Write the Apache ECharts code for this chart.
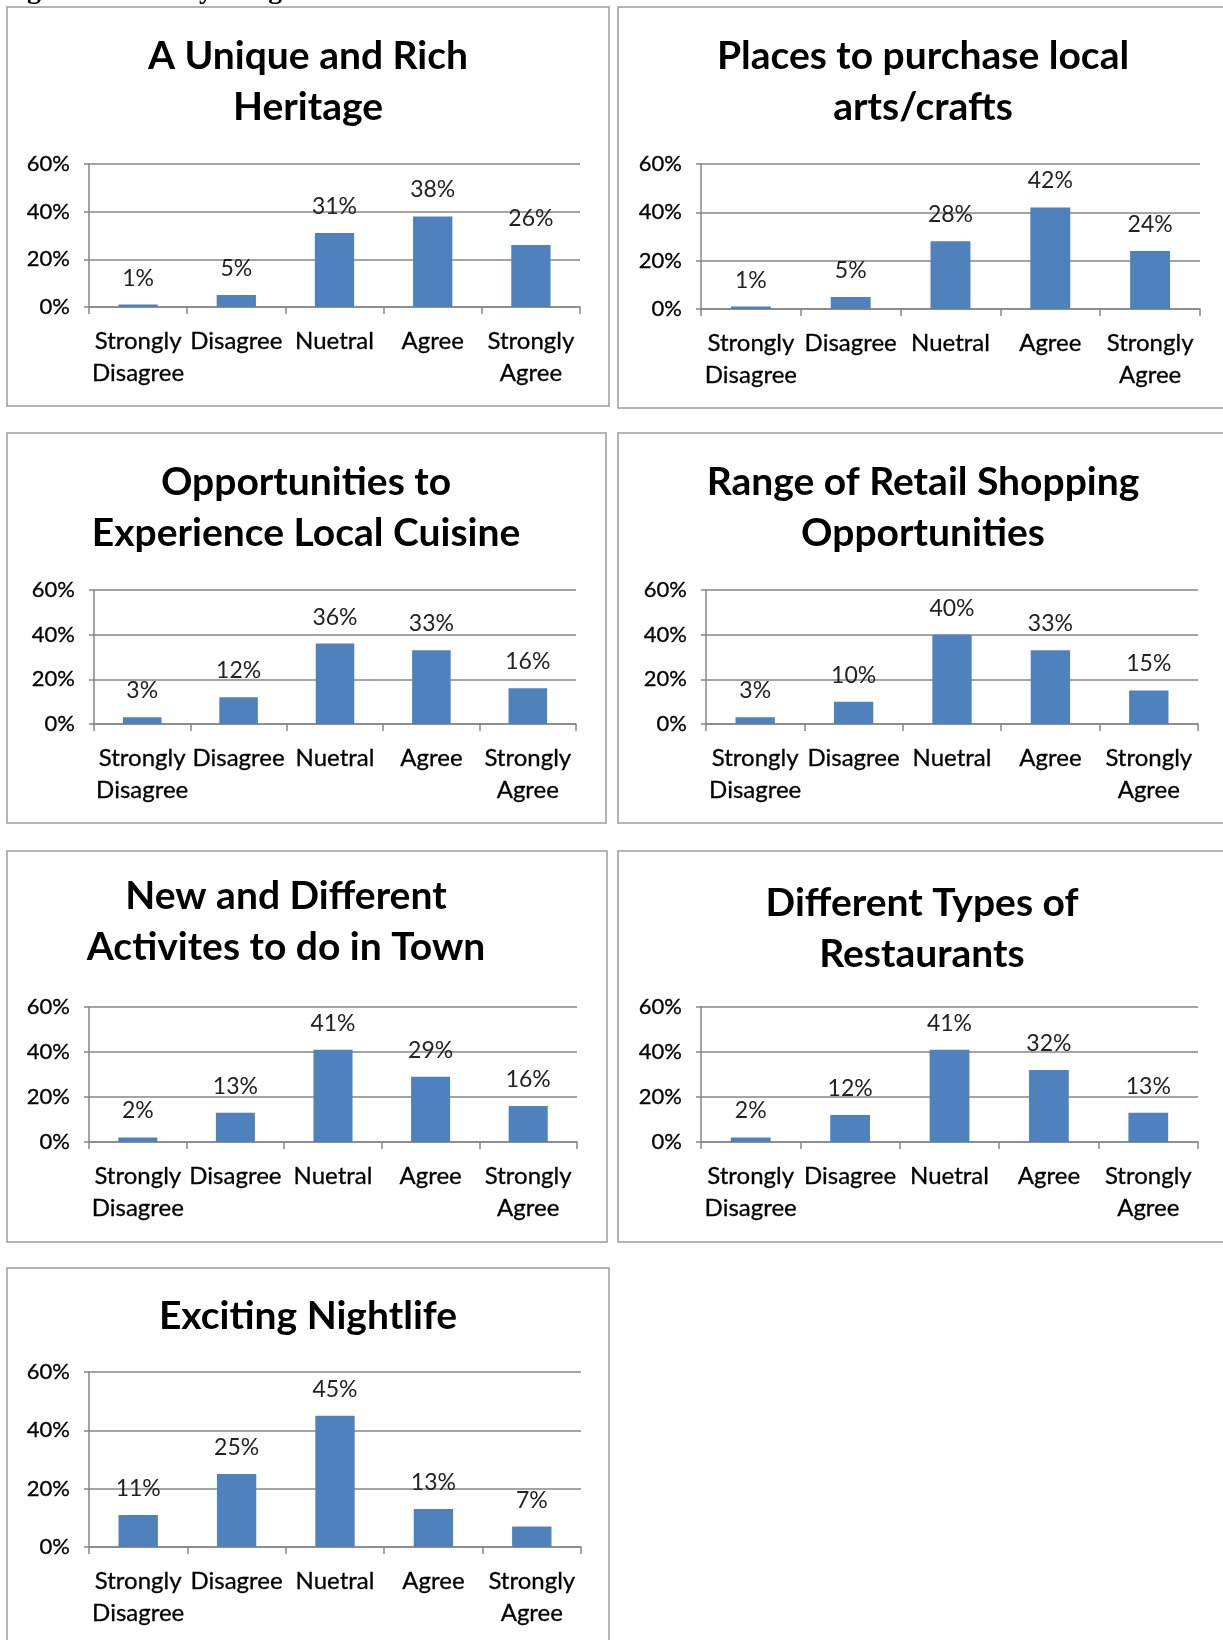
<!DOCTYPE html>
<html>
<head>
<meta charset="utf-8">
<style>
    html, body { margin: 0; padding: 0; background: #fff; }
    #main { width: 1223px; height: 1640px; }
</style>
<script src="https://cdn.jsdelivr.net/npm/echarts@6/dist/echarts.min.js"></script>
</head>
<body>
<div id="main"></div>
<script>
var categories = ['Strongly\nDisagree', 'Disagree', 'Nuetral', 'Agree', 'Strongly\nAgree'];
var yTicks = [0, 20, 40, 60];

var titles = [
    'A Unique and Rich\nHeritage',
    'Places to purchase local\narts/crafts',
    'Opportunities to\nExperience Local Cuisine',
    'Range of Retail Shopping\nOpportunities',
    'New and Different\nActivites to do in Town',
    'Different Types of\nRestaurants',
    'Exciting Nightlife'
];

var heritage = [1, 5, 31, 38, 26];
var artsCrafts = [1, 5, 28, 42, 24];
var localCuisine = [3, 12, 36, 33, 16];
var retailShopping = [3, 10, 40, 33, 15];
var newActivities = [2, 13, 41, 29, 16];
var restaurants = [2, 12, 41, 32, 13];
var nightlife = [11, 25, 45, 13, 7];

var seriesData = [heritage, artsCrafts, localCuisine, retailShopping, newActivities, restaurants, nightlife];

// panel frame, plot area [left, top, width, height], title centre x / top y
var panels = [
    { box: [7, 7, 602, 399], grid: [89, 164, 491, 143], title: [308, 31] },
    { box: [618, 7, 615, 401], grid: [701, 164, 499, 145], title: [923, 31] },
    { box: [7, 433, 599, 390], grid: [94, 590, 482, 134], title: [306, 457] },
    { box: [618, 433, 615, 390], grid: [706, 590, 492, 134], title: [923, 457] },
    { box: [7, 851, 600, 391], grid: [89, 1007, 488, 135], title: [286, 871] },
    { box: [618, 851, 615, 391], grid: [701, 1007, 497, 135], title: [922, 878] },
    { box: [7, 1268, 602, 400], grid: [89, 1372, 492, 175], title: [308, 1291] }
];

var FONT = 'Lato';
var axisColor = '#868686';

function buildOption() {
    var option = {
        animation: false,
        backgroundColor: '#fff',
        title: [],
        grid: [],
        xAxis: [],
        yAxis: [],
        series: [],
        graphic: []
    };

    // caption above the figure, cut off by the page edge
    option.graphic.push({
        type: 'text',
        left: 2,
        top: -23,
        style: {
            text: 'Figure 1: Activity Image \u2013 Gardiner has:',
            font: 'bold 28px "Liberation Serif"',
            fill: '#000'
        }
    });

    for (var i = 0; i < panels.length; i++) {
        var p = panels[i];
        option.graphic.push({
            type: 'rect',
            shape: { x: p.box[0], y: p.box[1], width: p.box[2], height: p.box[3] },
            style: { fill: 'none', stroke: '#9c9c9c', lineWidth: 1.5 },
            z: 0
        });
        option.title.push({
            text: titles[i],
            left: p.title[0],
            top: p.title[1],
            textAlign: 'center',
            padding: 0,
            textStyle: {
                fontFamily: FONT,
                fontWeight: 'bold',
                fontSize: 39,
                lineHeight: 51,
                color: '#000'
            }
        });
        option.grid.push({
            left: p.grid[0],
            top: p.grid[1],
            width: p.grid[2],
            height: p.grid[3],
            containLabel: false
        });
        option.xAxis.push({
            type: 'category',
            gridIndex: i,
            data: categories,
            axisLine: { lineStyle: { color: axisColor, width: 1.5 } },
            axisTick: { show: true, length: 7, lineStyle: { color: axisColor, width: 1.5 } },
            axisLabel: {
                interval: 0,
                margin: 18,
                color: '#000',
                fontFamily: FONT,
                fontSize: 24,
                lineHeight: 32,
                textBorderColor: '#000',
                textBorderWidth: 0.3
            }
        });
        option.yAxis.push({
            type: 'value',
            gridIndex: i,
            min: yTicks[0],
            max: yTicks[yTicks.length - 1],
            interval: yTicks[1] - yTicks[0],
            axisLine: { show: true, lineStyle: { color: axisColor, width: 1.5 } },
            axisTick: { show: true, length: 5, lineStyle: { color: axisColor, width: 1.5 } },
            splitLine: { lineStyle: { color: axisColor, width: 1.5 } },
            axisLabel: {
                margin: 19,
                color: '#000',
                fontFamily: FONT,
                fontSize: 22,
                textBorderColor: '#000',
                textBorderWidth: 0.3,
                formatter: '{value}%'
            }
        });
        option.series.push({
            type: 'bar',
            xAxisIndex: i,
            yAxisIndex: i,
            data: seriesData[i],
            barCategoryGap: '60%',
            itemStyle: { color: '#4f81bd' },
            label: {
                show: true,
                position: 'top',
                distance: 15,
                color: '#222',
                fontFamily: FONT,
                fontSize: 23,
                formatter: '{c}%'
            }
        });
    }
    return option;
}

var myChart = echarts.init(document.getElementById('main'));
myChart.setOption(buildOption());
</script>
</body>
</html>
